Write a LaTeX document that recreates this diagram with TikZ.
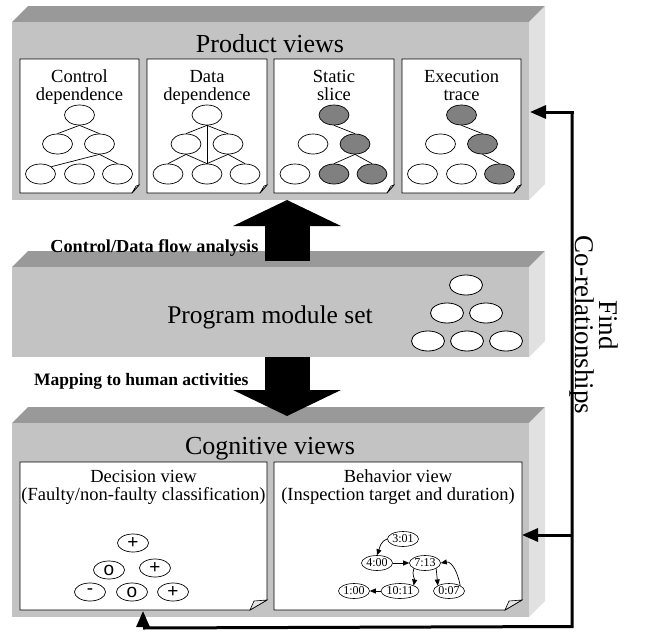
\documentclass[tikz,border=0pt]{standalone}
\usepackage{fontspec}
\setmainfont{Liberation Serif}
\newfontfamily\symfont{Liberation Sans}
\usetikzlibrary{shapes.geometric,arrows.meta}
\definecolor{frontc}{HTML}{C3C3C3}
\definecolor{topc}{HTML}{999999}
\definecolor{sidec}{HTML}{E1E1E1}
\definecolor{nodegray}{HTML}{808080}
\definecolor{foldc}{HTML}{E6E6E6}
\tikzset{
  pagebox/.style={draw=black, fill=white, line width=0.8pt},
  foldtri/.style={draw=black, fill=foldc, line width=0.6pt},
  tn/.style={ellipse, draw=black, line width=0.7pt, fill=white, minimum width=30pt, minimum height=20pt, inner sep=0pt},
  gn/.style={tn, fill=nodegray},
  mn/.style={ellipse, draw=black, line width=0.8pt, fill=white, minimum width=33pt, minimum height=20pt, inner sep=0pt},
  dn/.style={ellipse, draw=black, line width=0.7pt, fill=white, minimum width=31pt, minimum height=18pt, inner sep=0pt, font=\symfont\fontsize{19}{19}\selectfont},
  bn/.style={ellipse, draw=black, line width=0.6pt, fill=white, minimum width=31pt, minimum height=15pt, inner sep=0pt, font=\fontsize{12}{12}\selectfont},
  tedge/.style={line width=0.7pt},
  sarrow/.style={line width=0.7pt, -{Triangle[length=6pt,width=5pt]}},
  bigarrow/.style={line width=45pt, -{Triangle[length=26pt,width=107pt]}},
  conn/.style={line width=3pt},
  connarrow/.style={line width=3pt, -{Triangle[length=16pt,width=13pt]}},
  title/.style={font=\fontsize{26}{28}\selectfont, anchor=base},
  ptitle/.style={font=\fontsize{18.5}{18}\selectfont, align=center, anchor=base},
  qtitle/.style={font=\fontsize{18.5}{17.5}\selectfont, align=center, anchor=base},
  blabel/.style={font=\bfseries\fontsize{17.5}{18}\selectfont, anchor=base east},
}
\newcommand\cube[4]{% x1 y1 x2 y2 (front face), depth 16
  \fill[topc] (#1,#2) -- (#1+16,#2-16) -- (#3+16,#2-16) -- (#3,#2) -- cycle;
  \fill[sidec] (#3,#2) -- (#3+16,#2-16) -- (#3+16,#4-16) -- (#3,#4) -- cycle;
  \fill[frontc] (#1,#2) rectangle (#3,#4);
}
\newcommand\docpage[6]{% x1 y1 x2 y2 foldw foldh
  \draw[pagebox] (#1,#2) -- (#3,#2) -- (#3,#4-#6) -- (#3-#5,#4) -- (#1,#4) -- cycle;
  \draw[foldtri] (#3,#4-#6) -- (#3-#5,#4) -- (#3-#5+4,#4-#6+1) -- cycle;
}
\begin{document}
\begin{tikzpicture}[x=1pt,y=-1pt]
\useasboundingbox (0,0) rectangle (651,632);
% ---------------- boxes
\cube{12}{22}{529}{200}
\cube{12}{267}{529}{357}
\cube{12}{423}{529}{617}
% ---------------- top box
\node[title] (ptitle) at (270,52) {Product views};
\docpage{20}{59}{139}{193}{7}{8}
\docpage{147}{59}{267}{193}{7}{8}
\docpage{274}{59}{394}{193}{7}{8}
\docpage{402}{59}{521}{193}{7}{8}
\node[ptitle] (t1) at (79.5,100) {Control\\dependence};
\node[ptitle] (t2) at (207,100) {Data\\dependence};
\node[ptitle] (t3) at (334,100) {Static\\slice};
\node[ptitle] (t4) at (461.5,100) {Execution\\trace};
% page 1: control dependence
\begin{scope}[shift={(79.5,0)}]
  \node[tn] (ar) at (0,115) {};
  \node[tn] (aa) at (-22,144) {};
  \node[tn] (ab) at (20,144) {};
  \node[tn] (ac) at (-39,174) {};
  \node[tn] (ad) at (0,174) {};
  \node[tn] (ae) at (38,174) {};
\end{scope}
\draw[tedge] (ar.south) -- (aa.north);
\draw[tedge] (ar.south) -- (ab.north);
\draw[tedge] (ab.south) -- (ac.north east);
\draw[tedge] (ab.south) -- (ae.north);
% page 2: data dependence
\begin{scope}[shift={(207,0)}]
  \node[tn] (br) at (0,115) {};
  \node[tn] (ba) at (-21,144) {};
  \node[tn] (bb) at (21,144) {};
  \node[tn] (bc) at (-39,174) {};
  \node[tn] (bd) at (0,174) {};
  \node[tn] (be) at (38,174) {};
\end{scope}
\draw[tedge] (br.south) -- (ba.north);
\draw[tedge] (br.south) -- (bb.north);
\draw[tedge] (br.south) -- (bd.north);
\draw[tedge] (ba.south) -- (bc.north);
\draw[tedge] (ba.south) -- (bd.north);
\draw[tedge] (bb.south) -- (bd.north);
\draw[tedge] (bb.south) -- (be.north);
% page 3: static slice
\begin{scope}[shift={(334,0)}]
  \node[gn] (cr) at (0,115) {};
  \node[tn] (ca) at (-21,144) {};
  \node[gn] (cb) at (21,144) {};
  \node[tn] (cc) at (-39,174) {};
  \node[gn] (cd) at (0,174) {};
  \node[gn] (ce) at (38,174) {};
\end{scope}
\draw[tedge] (cr.south) -- (cb.north);
\draw[tedge] (cb.south) -- (cd.north);
\draw[tedge] (cb.south) -- (ce.north);
% page 4: execution trace
\begin{scope}[shift={(461.5,0)}]
  \node[gn] (dr) at (0,115) {};
  \node[tn] (da) at (-21,144) {};
  \node[gn] (db) at (21,144) {};
  \node[tn] (dc) at (-39,174) {};
  \node[tn] (dd) at (0,174) {};
  \node[gn] (de) at (38,174) {};
\end{scope}
\draw[tedge] (dr.south) -- (db.north);
\draw[tedge] (db.south) -- (de.north);
% ---------------- middle box
\node[title, font=\fontsize{25.5}{28}\selectfont] (mtitle) at (270,323) {Program module set};
\node[mn] (m1) at (466,285) {};
\node[mn] (m2) at (447,313) {};
\node[mn] (m3) at (486,313) {};
\node[mn] (m4) at (428,341) {};
\node[mn] (m5) at (467,341) {};
\node[mn] (m6) at (506,341) {};
% ---------------- big arrows
\coordinate (upA) at (287,261);
\coordinate (upB) at (287,200);
\coordinate (dnA) at (287,357);
\coordinate (dnB) at (287,416);
\draw[bigarrow] (upA) -- (upB);
\draw[bigarrow] (dnA) -- (dnB);
\node[blabel, font=\bfseries\fontsize{18.3}{18}\selectfont] (lab1) at (262,252) {Control/Data flow analysis};
\node[blabel] (lab2) at (252,385) {Mapping to human activities};
% ---------------- bottom box
\node[title] (ctitle) at (270,454) {Cognitive views};
\docpage{20}{462}{267}{610}{17}{10}
\docpage{274}{462}{522}{610}{17}{10}
\node[qtitle] (t5) at (143.5,500) {Decision view\\(Faulty/non-faulty classification)};
\node[qtitle] (t6) at (398,500) {Behavior view\\(Inspection target and duration)};
% decision view
\node[dn] (e1) at (133,543) {+};
\node[dn] (e2) at (109,570) {o};
\node[dn] (e3) at (155,568) {+};
\node[dn] (e4) at (90,592) {-};
\node[dn] (e5) at (132,592) {o};
\node[dn] (e6) at (173,592) {+};
% behavior view
\node[bn] (n301) at (403,539) {3:01};
\node[bn] (n400) at (377,563) {4:00};
\node[bn] (n713) at (425,563) {7:13};
\node[bn] (n100) at (354,591) {1:00};
\node[bn] (n1011) at (400,591) {10:11};
\node[bn] (n007) at (449,591) {0:07};
\draw[sarrow] (n301.west) to[out=200,in=70] (n400.north);
\draw[sarrow] (n400) -- (n713);
\draw[sarrow] (n713.south west) to[out=250,in=80] (n1011.north east);
\draw[sarrow] (n713.south east) -- (n007.north west);
\draw[sarrow] (n007.north east) to[out=100,in=10] (n713.east);
\draw[sarrow] (n1011) -- (n100);
% ---------------- right connector
\coordinate (c1) at (572,112);
\coordinate (c2) at (572,535);
\coordinate (c3) at (572,628);
\coordinate (c4) at (143,628);
\coordinate (tipTop) at (530,112);
\coordinate (tipMid) at (522,535);
\coordinate (tipBot) at (143,611);
\draw[conn] ([yshift=-1.5pt]c1) -- ([yshift=1.5pt]c3) -- (c4);
\draw[connarrow] ([xshift=1.5pt]c1) -- (tipTop);
\draw[connarrow] (c2) -- (tipMid);
\draw[connarrow] ([yshift=1.5pt]c4) -- (tipBot);
\node[font=\fontsize{27}{24}\selectfont, rotate=-90, align=center] (findlbl) at (594,325) {Find\\Co-relationships};
\end{tikzpicture}
\end{document}
